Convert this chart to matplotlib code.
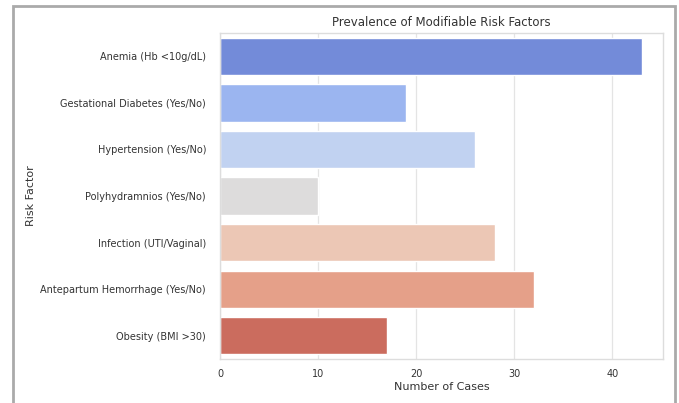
import matplotlib
matplotlib.use("Agg")
import matplotlib.pyplot as plt
import seaborn as sns
import pandas as pd
from matplotlib.patches import Rectangle

risk_factors = [
    "Anemia (Hb <10g/dL)",
    "Gestational Diabetes (Yes/No)",
    "Hypertension (Yes/No)",
    "Polyhydramnios (Yes/No)",
    "Infection (UTI/Vaginal)",
    "Antepartum Hemorrhage (Yes/No)",
    "Obesity (BMI >30)",
]
cases = [43, 19, 26, 10, 28, 32, 17]

df = pd.DataFrame({"Risk Factor": risk_factors, "Number of Cases": cases})

sns.set_theme(style="whitegrid", rc={"grid.color": "#e4e4e4", "grid.linewidth": 0.9,
                                     "axes.edgecolor": "#dddddd"})
plt.rcParams['font.family'] = ['DejaVu Sans']

fig = plt.figure(figsize=(6.79, 4.03), dpi=100)
ax = fig.add_axes([0.324, 0.109, 0.652, 0.809])

sns.barplot(data=df, x="Number of Cases", y="Risk Factor", hue="Risk Factor",
            palette="coolwarm", legend=False, ax=ax)

ax.set_title("Prevalence of Modifiable Risk Factors", fontsize=8.5, pad=5, color="#333333")
ax.set_xlabel("Number of Cases", fontsize=8, labelpad=2, color="#333333")
ax.set_ylabel("Risk Factor", fontsize=8, color="#333333")
ax.yaxis.set_label_coords(-0.415, 0.5)
ax.tick_params(axis='y', labelsize=7, pad=4, labelcolor="#333333")
ax.tick_params(axis='x', labelsize=7, pad=1, labelcolor="#333333")
ax.set_xticks([0, 10, 20, 30, 40])
for s in ax.spines.values():
    s.set_linewidth(1.0)

# grey frame around the picture
fig.patches.append(Rectangle((13 / 679, -0.05), (675 - 13) / 679, 1.05 - 6.5 / 403,
                             transform=fig.transFigure, fill=False,
                             edgecolor="#aaaaaa", linewidth=2))

fig.savefig("out.png", dpi=100)
